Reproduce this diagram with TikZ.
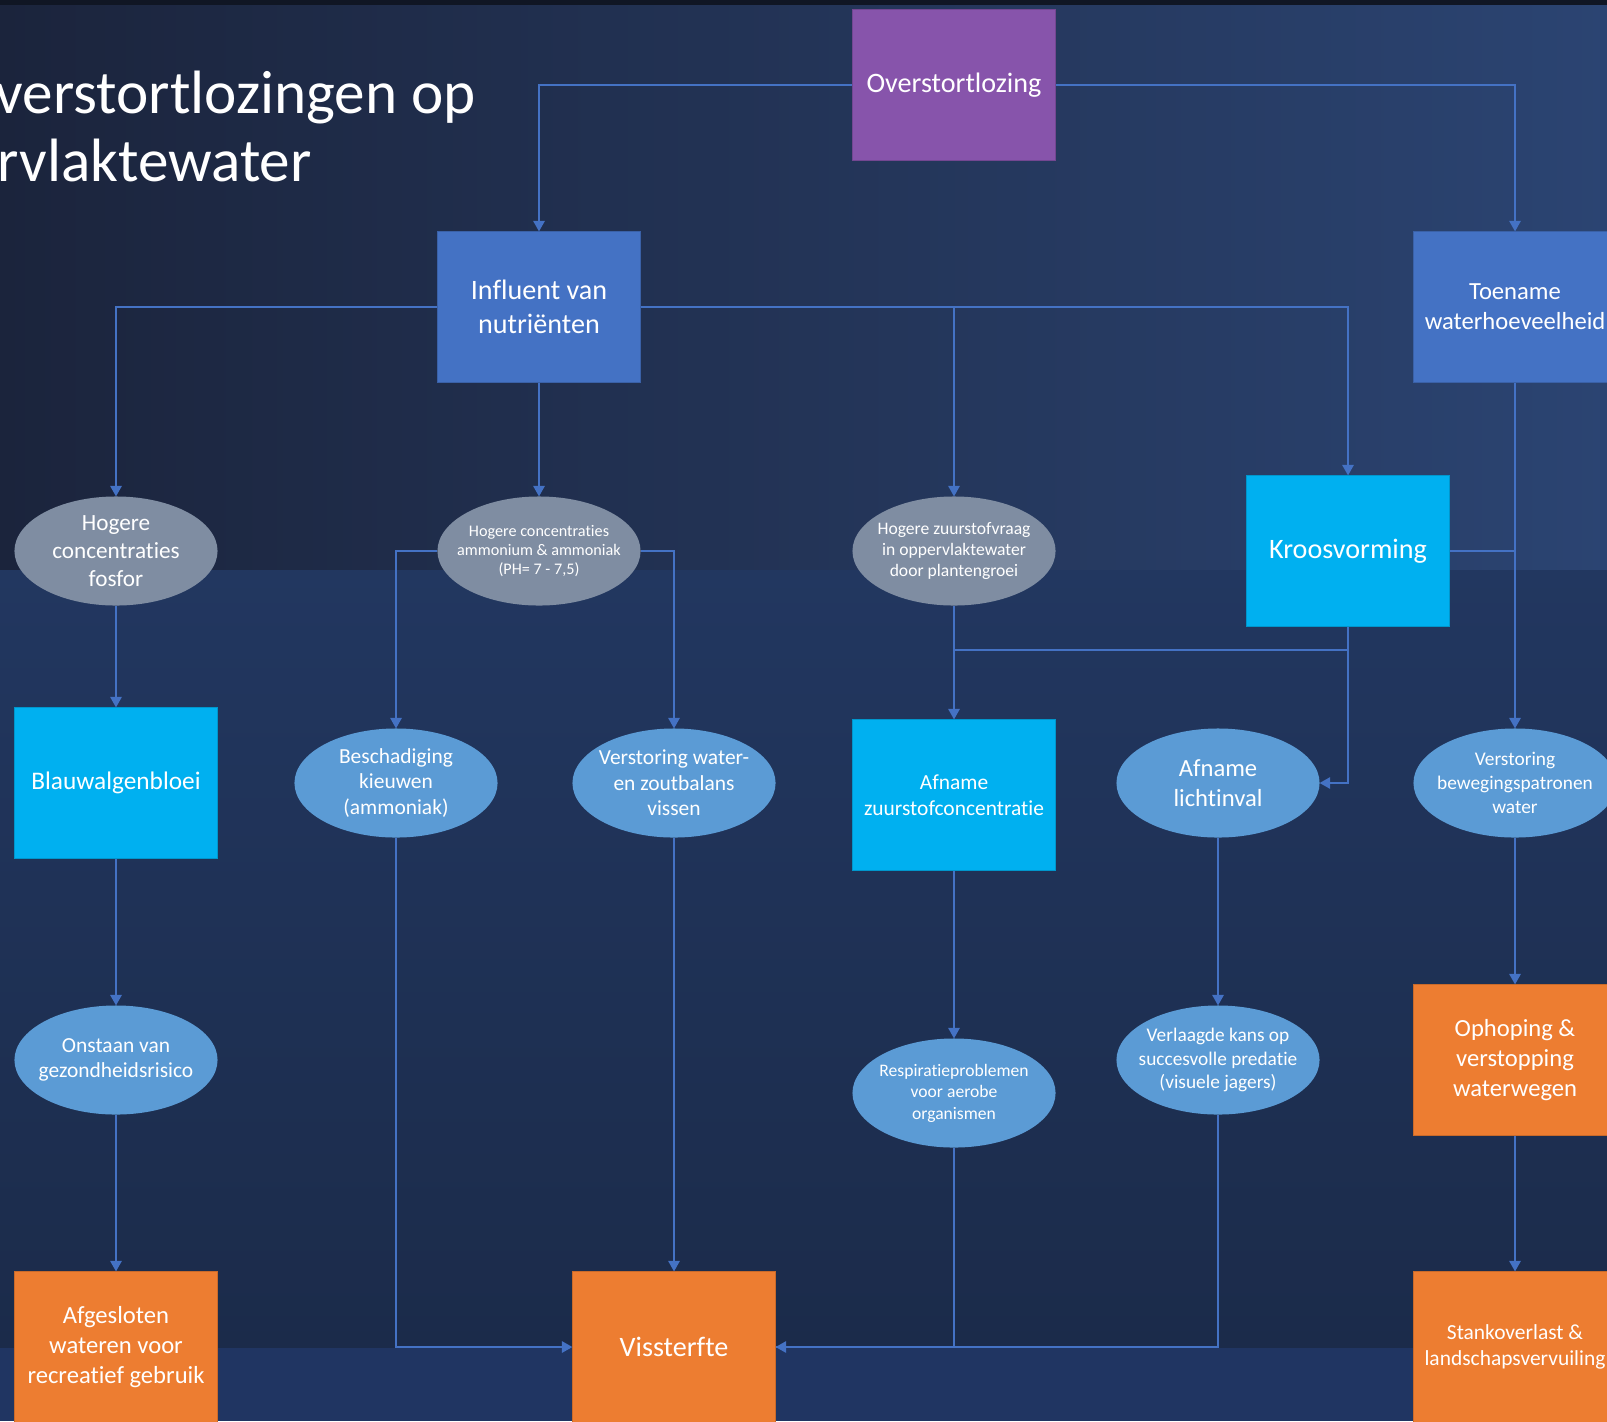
\documentclass[tikz,border=0pt]{standalone}
\usepackage{fontspec}
\setmainfont{Carlito}[Ligatures=NoCommon]
\usetikzlibrary{shapes.geometric,arrows.meta}
\definecolor{purplebox}{RGB}{135,84,171}
\definecolor{bluebox}{RGB}{68,114,196}
\definecolor{cyanbox}{RGB}{0,176,240}
\definecolor{greyell}{RGB}{127,141,162}
\definecolor{lightell}{RGB}{91,155,213}
\definecolor{orangebox}{RGB}{237,125,49}
\definecolor{link}{RGB}{68,114,196}
\definecolor{bgdark}{RGB}{27,36,60}
\definecolor{bgright}{RGB}{43,68,114}
\definecolor{bgmid}{RGB}{34,55,96}
\definecolor{bglow}{RGB}{27,43,74}
\definecolor{bgfoot}{RGB}{32,53,98}
\tikzset{
  blok/.style={rectangle, minimum width=2.03cm, minimum height=1.51cm, inner sep=0pt,
    outer sep=0pt, align=center, text=white, fill=#1, draw=#1!85!black, line width=0.4pt},
  ell/.style={ellipse, minimum width=2.03cm, minimum height=1.09cm, inner xsep=-1.2mm,
    inner ysep=0pt, outer sep=0pt, align=center, text=white, fill=#1},
  arr/.style={link, line width=0.6pt, -{Triangle[length=3pt,width=3.2pt]}},
  ln/.style={link, line width=0.6pt},
  f8/.style={font=\fontsize{8}{9.7}\selectfont},
  f7/.style={font=\fontsize{7}{8.5}\selectfont},
  f65/.style={font=\fontsize{6.6}{7.9}\selectfont},
  f6/.style={font=\fontsize{6.1}{7.3}\selectfont},
  f55/.style={font=\fontsize{5.5}{6.8}\selectfont},
  f5/.style={font=\fontsize{5}{6.1}\selectfont},
  f46/.style={font=\fontsize{4.6}{5.5}\selectfont},
  titel/.style={anchor=base west, text=white, inner sep=0pt, font=\fontsize{17.4}{19.6}\selectfont}
}
\begin{document}
\begin{tikzpicture}[x=0.01cm, y=-0.01cm]
  \useasboundingbox (0,0) rectangle (1607,1421);
  \clip (0,0) rectangle (1607,1421);
  % achtergrond
  \fill[bgdark!60!black] (0,0) rectangle (1607,5);
  \shade[left color=bgdark, right color=bgright] (0,5) rectangle (1607,570);
  \shade[top color=bgmid, bottom color=bglow] (0,570) rectangle (1607,1348);
  \fill[bgfoot] (0,1348) rectangle (1607,1421);
  % titel
  \node[titel] (titel1) at (-5,113) {verstortlozingen op};
  \node[titel] (titel2) at (-3,181) {rvlaktewater};

  \node[blok=purplebox, f8] (overstort) at (954,85) {Overstortlozing};
  \node[blok=bluebox, f8] (influent) at (539,307) {Influent van\\nutriënten};
  \node[blok=bluebox, f7] (toename) at (1515,307) {Toename\\waterhoeveelheid};
  \node[ell=greyell, f65] (fosfor) at (116,551) {Hogere\\concentraties\\fosfor};
  \node[ell=greyell, f46] (ammonium) at (539,551) {Hogere concentraties\\ammonium \& ammoniak\\(PH= 7 - 7,5)};
  \node[ell=greyell, f5] (zuurstofvraag) at (954,551) {Hogere zuurstofvraag\\in oppervlaktewater\\door plantengroei};
  \node[blok=cyanbox, f8] (kroos) at (1348,551) {Kroosvorming};
  \node[blok=cyanbox, f7, font=\fontsize{7.2}{8.6}\selectfont] (blauwalg) at (116,783) {Blauwalgenbloei};
  \node[ell=lightell, f6] (kieuwen) at (396,783) {Beschadiging\\kieuwen\\(ammoniak)};
  \node[ell=lightell, f6] (zoutbalans) at (674,783) {Verstoring water-\\en zoutbalans\\vissen};
  \node[blok=cyanbox, f6] (zuurstofconc) at (954,795) {Afname\\zuurstofconcentratie};
  \node[ell=lightell, f7] (lichtinval) at (1218,783) {Afname\\lichtinval};
  \node[ell=lightell, f55] (beweging) at (1515,783) {Verstoring\\bewegingspatronen\\water};
  \node[ell=lightell, f6] (gezondheid) at (116,1060) {Onstaan van\\gezondheidsrisico};
  \node[ell=lightell, f5] (respiratie) at (954,1093) {Respiratieproblemen\\voor aerobe\\organismen};
  \node[ell=lightell, f55] (predatie) at (1218,1060) {Verlaagde kans op\\succesvolle predatie\\(visuele jagers)};
  \node[blok=orangebox, f7] (ophoping) at (1515,1060) {Ophoping \&\\verstopping\\waterwegen};
  \node[blok=orangebox, f7] (afgesloten) at (116,1347) {Afgesloten\\wateren voor\\recreatief gebruik};
  \node[blok=orangebox, f8] (vissterfte) at (674,1347) {Vissterfte};
  \node[blok=orangebox, f6] (stank) at (1515,1347) {Stankoverlast \&\\landschapsvervuiling};
  \coordinate (samen) at (954,650);

  \draw[arr] (overstort.west) -| (influent.north);
  \draw[arr] (overstort.east) -| (toename.north);
  \draw[arr] (influent.west) -| (fosfor.north);
  \draw[arr] (influent.south) -- (ammonium.north);
  \draw[arr] (influent.east) -| (zuurstofvraag.north);
  \draw[arr] (influent.east) -| (kroos.north);
  \draw[arr] (ammonium.west) -| (kieuwen.north);
  \draw[arr] (ammonium.east) -| (zoutbalans.north);
  \draw[arr] (fosfor.south) -- (blauwalg.north);
  \draw[arr] (zuurstofvraag.south) -- (zuurstofconc.north);
  \draw[ln] (kroos.south) |- (samen);
  \draw[arr] (kroos.south) |- (lichtinval.east);
  \draw[ln] (kroos.east) -- (kroos.east -| toename.south);
  \draw[arr] (toename.south) -- (beweging.north);
  \draw[arr] (blauwalg.south) -- (gezondheid.north);
  \draw[arr] (gezondheid.south) -- (afgesloten.north);
  \draw[arr] (kieuwen.south) |- (vissterfte.west);
  \draw[arr] (zoutbalans.south) -- (vissterfte.north);
  \draw[arr] (zuurstofconc.south) -- (respiratie.north);
  \draw[ln] (respiratie.south) |- (vissterfte.east);
  \draw[arr] (lichtinval.south) -- (predatie.north);
  \draw[arr] (predatie.south) |- (vissterfte.east);
  \draw[arr] (beweging.south) -- (ophoping.north);
  \draw[arr] (ophoping.south) -- (stank.north);
\end{tikzpicture}
\end{document}
